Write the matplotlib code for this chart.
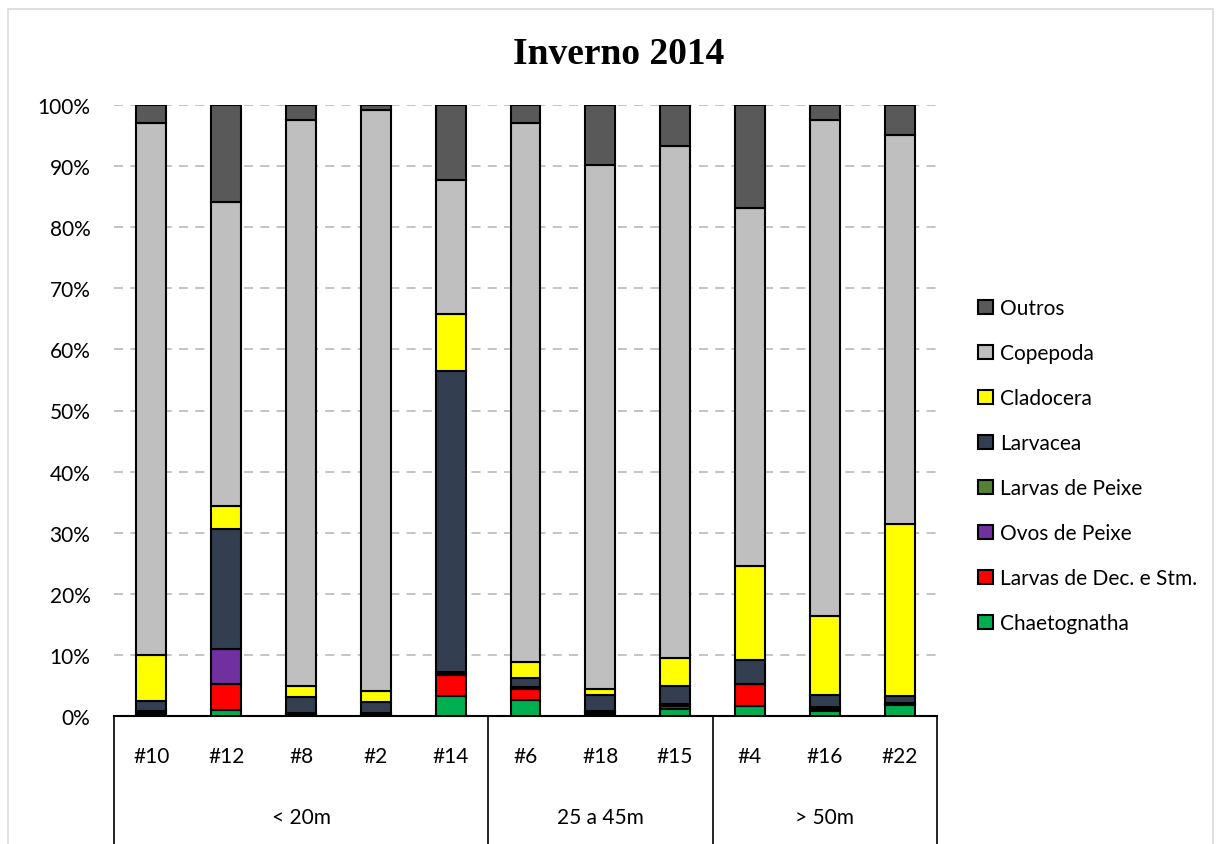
import matplotlib
matplotlib.use("Agg")
import matplotlib.pyplot as plt
import matplotlib.transforms as mtransforms
from matplotlib.patches import Rectangle
import numpy as np

plt.rcParams['font.family'] = ['Lato', 'DejaVu Sans']

stations = ['#10', '#12', '#8', '#2', '#14', '#6', '#18', '#15', '#4', '#16', '#22']
groups = ['< 20m', '25 a 45m', '> 50m']
group_sizes = [5, 3, 3]

# percentages, bottom to top
chaetognatha = [0.4, 1.0, 0.2, 0.2, 3.3, 2.7, 0.4, 1.15, 1.6, 0.9, 1.8]
larvas_dec = [0.2, 4.2, 0.2, 0.2, 3.4, 1.7, 0.2, 0.5, 3.6, 0.2, 0.2]
ovos_peixe = [0.05, 5.7, 0.0, 0.0, 0.35, 0.15, 0.05, 0.1, 0.05, 0.1, 0.05]
larvas_peixe = [0.1, 0.1, 0.1, 0.1, 0.1, 0.15, 0.1, 0.2, 0.05, 0.3, 0.15]
larvacea = [1.65, 19.6, 2.55, 1.75, 49.3, 1.5, 2.7, 3.0, 3.9, 1.95, 1.0]
cladocera = [7.6, 3.8, 1.9, 1.9, 9.3, 2.7, 1.0, 4.5, 15.4, 12.95, 28.2]
copepoda = [87.0, 49.7, 92.6, 94.95, 21.9, 88.1, 85.8, 83.9, 58.6, 81.2, 63.7]
outros = [3.0, 15.9, 2.4, 0.9, 12.3, 3.0, 9.8, 6.6, 16.8, 2.4, 4.9]

series = [
    ('Chaetognatha', chaetognatha, '#00B050'),
    ('Larvas de Dec. e Stm.', larvas_dec, '#FF0000'),
    ('Ovos de Peixe', ovos_peixe, '#7030A0'),
    ('Larvas de Peixe', larvas_peixe, '#548235'),
    ('Larvacea', larvacea, '#333F50'),
    ('Cladocera', cladocera, '#FFFF00'),
    ('Copepoda', copepoda, '#BFBFBF'),
    ('Outros', outros, '#595959'),
]

FS = 15
W, H = 1218, 845
fig = plt.figure(figsize=(W / 100, H / 100), dpi=100)
fig.patches.append(Rectangle((8 / W, -0.05), (1213 - 8) / W, 1.05 - 10 / H,
                             transform=fig.transFigure, fill=False,
                             edgecolor='#D9D9D9', linewidth=1.2))

ax = fig.add_axes([114 / W, 1 - 717 / H, (937 - 114) / W, (717 - 106) / H])

x = np.arange(len(stations))
bottom = np.zeros(len(stations))
for name, vals, col in series:
    vals = np.array(vals)
    ax.bar(x, vals, 0.4, bottom=bottom, color=col, edgecolor='black',
           linewidth=1.5, label=name, zorder=3)
    bottom += vals

ax.set_xlim(-0.5, len(stations) - 0.5)
ax.set_ylim(0, 100)
ax.set_yticks(np.arange(0, 101, 10))
ax.set_yticklabels([f'{v}%' for v in range(0, 101, 10)], fontsize=FS)
ax.tick_params(axis='y', length=0, pad=17)
ax.yaxis.grid(True, linestyle=(0, (5, 4)), color='#BFBFBF', linewidth=1.3, zorder=0)
ax.set_xticks([])
for s in ['left', 'right', 'top']:
    ax.spines[s].set_visible(False)
ax.spines['bottom'].set_linewidth(1.5)

# category axis with two levels
tr = mtransforms.blended_transform_factory(ax.transData, ax.transAxes)
yfrac = lambda py: (717 - py) / (717 - 106)
for xi, lab in zip(x, stations):
    ax.text(xi, yfrac(757), lab, transform=tr, ha='center', va='center', fontsize=FS)
start = 0
edges = [-0.5]
for g, n in zip(groups, group_sizes):
    ax.text(start + (n - 1) / 2, yfrac(818), g, transform=tr, ha='center',
            va='center', fontsize=FS)
    start += n
    edges.append(start - 0.5)
for e in edges:
    ax.plot([e, e], [0, yfrac(850)], transform=tr, color='black', linewidth=1.2,
            clip_on=False)

fig.text(619 / W, 1 - 54 / H, 'Inverno 2014', ha='center', va='center',
         fontsize=27, fontweight='bold', family='Liberation Serif')

handles, labels = ax.get_legend_handles_labels()
fig.legend(handles[::-1], labels[::-1], loc='upper left',
           bbox_to_anchor=(970 / W, 1 - 291 / H), frameon=False, fontsize=FS,
           handlelength=0.7, handleheight=0.7, handletextpad=0.35,
           labelspacing=1.2, borderaxespad=0)

fig.savefig('out.png', dpi=100)
